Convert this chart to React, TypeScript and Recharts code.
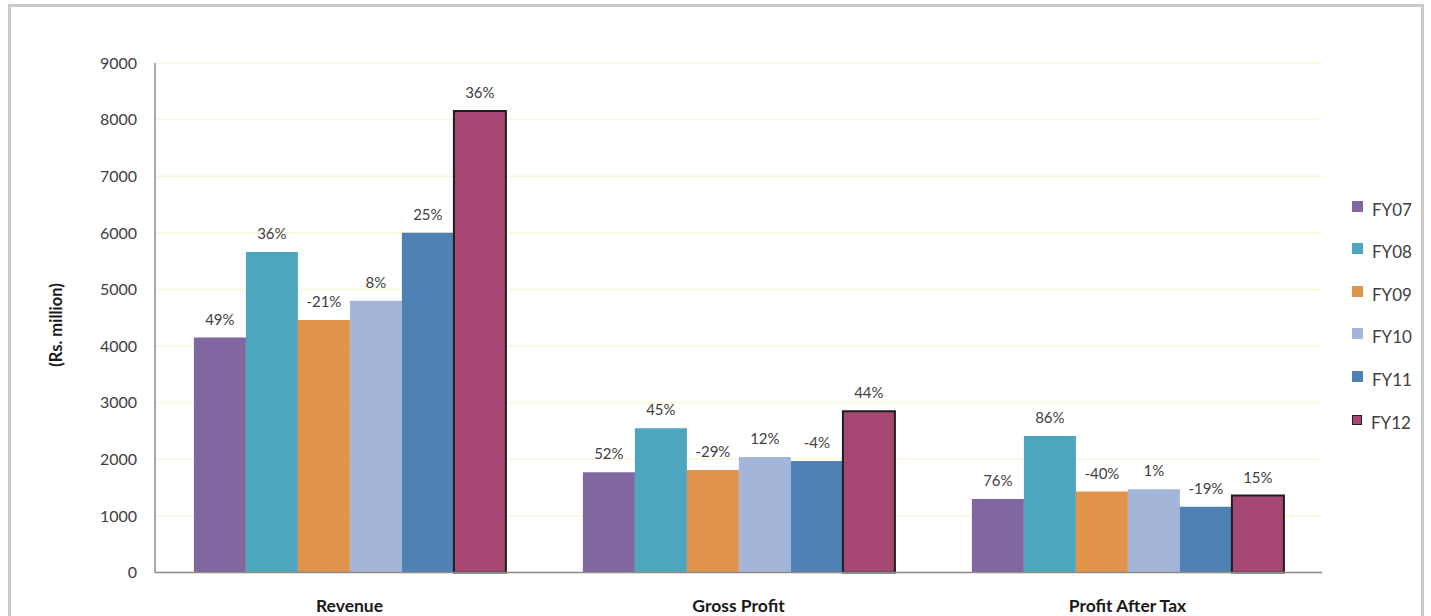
import { BarChart, Bar, XAxis, YAxis, CartesianGrid, Legend, LabelList } from "recharts";

const categories = ["Revenue", "Gross Profit", "Profit After Tax"];
const seriesNames = ["FY07", "FY08", "FY09", "FY10", "FY11", "FY12"];
const seriesColors = ["#8067a0", "#4ba6be", "#e0934b", "#a3b5d8", "#4f81b5", "#a64672"];

// Rs. million, one array per fiscal year: [Revenue, Gross Profit, PAT]
const fy07 = [4150, 1770, 1300];
const fy08 = [5660, 2550, 2410];
const fy09 = [4460, 1810, 1430];
const fy10 = [4800, 2040, 1470];
const fy11 = [6000, 1970, 1160];
const fy12 = [8150, 2850, 1360];

// growth labels over each bar
const g07 = ["49%", "52%", "76%"];
const g08 = ["36%", "45%", "86%"];
const g09 = ["-21%", "-29%", "-40%"];
const g10 = ["8%", "12%", "1%"];
const g11 = ["25%", "-4%", "-19%"];
const g12 = ["36%", "44%", "15%"];

const yTicks = [0, 1000, 2000, 3000, 4000, 5000, 6000, 7000, 8000, 9000];

const values = [fy07, fy08, fy09, fy10, fy11, fy12];
const growth = [g07, g08, g09, g10, g11, g12];

const data = categories.map((name, i) => {
  const row: Record<string, string | number> = { name };
  seriesNames.forEach((s, j) => {
    row[s] = values[j][i];
    row[s + "_g"] = growth[j][i];
  });
  return row;
});

const FONT = "Lato, 'Open Sans', sans-serif";

function CategoryTick(props: any) {
  const { x, y, payload } = props;
  return (
    <text x={x} y={y + 37} textAnchor="middle" fontFamily={FONT} fontSize={17.5} fontWeight={700} fill="#1a1a1a">
      {payload.value}
    </text>
  );
}

function LegendBox() {
  return (
    <div style={{ fontFamily: FONT }}>
      {seriesNames.map((s, i) => (
        <div key={s} style={{ display: "flex", alignItems: "flex-end", height: 42.6 }}>
          <span
            style={{
              width: i === 5 ? 8 : 11,
              height: i === 5 ? 8 : 11,
              background: seriesColors[i],
              border: i === 5 ? "1.5px solid #222" : "none",
              marginRight: 9,
              marginBottom: 9,
            }}
          />
          <span style={{ fontSize: 17, color: "#404040", lineHeight: "18px", marginBottom: 2 }}>{s}</span>
        </div>
      ))}
    </div>
  );
}

export default function App() {
  return (
    <div style={{ position: "absolute", left: 0, top: 0, width: 1431, height: 616, overflow: "hidden", background: "#fff" }}>
      <div
        style={{
          position: "absolute",
          left: 8,
          top: 4,
          width: 1416,
          height: 680,
          border: "3px solid #c9c9c9",
          boxSizing: "border-box",
        }}
      />
      <div
        style={{
          position: "absolute",
          left: 56,
          top: 325,
          transform: "translate(-50%, -50%) rotate(-90deg)",
          fontFamily: FONT,
          fontWeight: 700,
          fontSize: 16.5,
          color: "#1a1a1a",
          whiteSpace: "nowrap",
        }}
      >
        (Rs. million)
      </div>
      <div style={{ position: "absolute", left: 0, top: 0 }}>
        <BarChart
          width={1431}
          height={616}
          data={data}
          margin={{ top: 63, right: 29, bottom: 0, left: 95 }}
          barCategoryGap="10%"
          barGap={0}
        >
          <CartesianGrid horizontal vertical={false} stroke="#faf6d6" strokeWidth={1.5} />
          <XAxis
            dataKey="name"
            height={43.5}
            axisLine={{ stroke: "#8c8c8c", strokeWidth: 1.5 }}
            tickLine={false}
            tickSize={0}
            tick={<CategoryTick />}
          />
          <YAxis
            width={60}
            domain={[0, 9000]}
            ticks={yTicks}
            interval={0}
            axisLine={{ stroke: "#8c8c8c", strokeWidth: 1.5 }}
            tickLine={false}
            tickSize={0}
            tickMargin={18}
            tick={{ fontSize: 16, fill: "#404040", fontFamily: FONT }}
          />
          <Legend
            layout="vertical"
            verticalAlign="top"
            align="right"
            wrapperStyle={{ left: 1352, top: 178, width: 80 }}
            content={<LegendBox />}
          />
          {seriesNames.map((s, i) => (
            <Bar
              key={s}
              dataKey={s}
              fill={seriesColors[i]}
              stroke={i === 5 ? "#1e1e1e" : "none"}
              strokeWidth={i === 5 ? 2 : 0}
              isAnimationActive={false}
            >
              <LabelList
                dataKey={s + "_g"}
                position="top"
                offset={13}
                style={{ fontSize: 15, fill: "#404040", fontFamily: FONT }}
              />
            </Bar>
          ))}
        </BarChart>
      </div>
    </div>
  );
}
